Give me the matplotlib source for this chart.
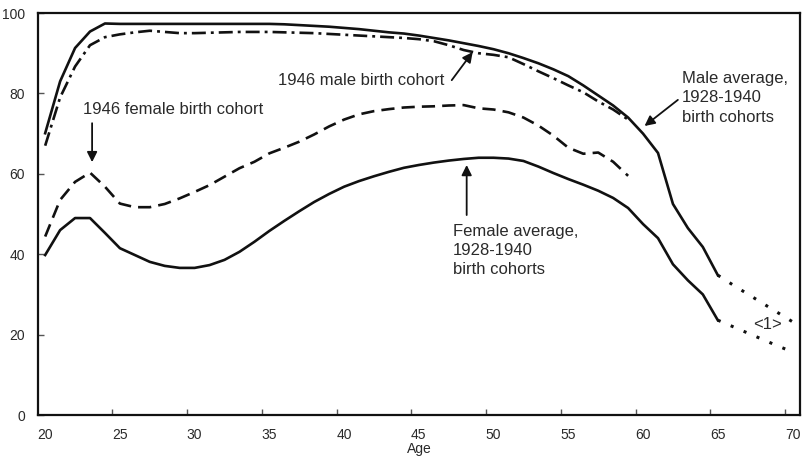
import matplotlib
matplotlib.use("Agg")
import matplotlib.pyplot as plt

plt.rcParams['font.family'] = ['Liberation Sans', 'DejaVu Sans']

# ages for each series
ages_male_avg = list(range(20, 66))
ages_cohort = list(range(20, 60))
ages_proj = list(range(65, 71))

male_avg = [70.1, 83, 91.3, 95.4, 97.4, 97.3, 97.3, 97.3, 97.3, 97.3,
            97.3, 97.3, 97.3, 97.3, 97.3, 97.3, 97.2, 97.0, 96.8, 96.6,
            96.3, 96.0, 95.6, 95.2, 94.9, 94.4, 93.8, 93.2, 92.5, 91.8,
            91.0, 90.0, 88.8, 87.5, 86.0, 84.3, 82.0, 79.5, 77.0, 74.0,
            70.0, 65.2, 52.5, 46.5, 41.8, 34.8]
male_1946 = [67, 79, 86.7, 92, 94, 94.7, 95.2, 95.6, 95.3, 95.0,
             95.0, 95.1, 95.2, 95.3, 95.3, 95.3, 95.2, 95.1, 95.0, 94.8,
             94.6, 94.4, 94.2, 94.0, 93.8, 93.5, 93.0, 92.0, 90.8, 90.0,
             89.6, 89.0, 87.3, 85.5, 83.8, 82.0, 80.3, 78.0, 76.0, 73.5]
female_avg = [39.8, 46, 49, 49, 45.3, 41.5, 39.8, 38.1, 37.1, 36.6,
              36.6, 37.3, 38.6, 40.6, 43.1, 45.8, 48.3, 50.7, 53.0, 55.0,
              56.8, 58.2, 59.4, 60.5, 61.5, 62.2, 62.8, 63.3, 63.7, 64.0,
              64.0, 63.8, 63.2, 61.8, 60.2, 58.7, 57.3, 55.8, 54.0, 51.5,
              47.5, 44.0, 37.5, 33.5, 30.0, 23.6]
female_1946 = [44.4, 53.5, 58, 60.3, 56.8, 52.6, 51.7, 51.7, 52.5, 53.9,
               55.5, 57.2, 59.3, 61.4, 63.0, 65.1, 66.5, 68.0, 69.8, 71.8,
               73.5, 74.8, 75.6, 76.1, 76.5, 76.7, 76.8, 77.0, 77.1, 76.3,
               76.0, 75.3, 74.0, 72.0, 69.5, 66.5, 65.0, 65.3, 63.0, 59.5]
male_proj = [34.8, 32.4, 30.1, 27.8, 25.5, 23.2]
female_proj = [23.6, 22.0, 20.4, 18.8, 17.2, 15.7]

x_labels = list(range(20, 71, 5))
y_ticks = list(range(0, 101, 20))

ink = '#111111'
txt = '#2a2a2a'

fig = plt.figure(figsize=(8.02, 4.66), dpi=100)
ax = fig.add_axes([0.047, 0.1094, 0.9505, 0.8626])

ax.plot(ages_male_avg, male_avg, color=ink, lw=1.9, solid_joinstyle='round')
ax.plot(ages_male_avg, female_avg, color=ink, lw=1.9, solid_joinstyle='round')
ax.plot(ages_cohort, male_1946, color=ink, lw=1.9, dashes=(5.3, 1.9, 1.1, 1.9))
ax.plot(ages_cohort, female_1946, color=ink, lw=1.9, dashes=(5, 2.7))
ax.plot(ages_proj, male_proj, color=ink, lw=2.2, dashes=(1, 3.6))
ax.plot(ages_proj, female_proj, color=ink, lw=2.2, dashes=(1, 3.6))

ax.set_xlim(19.5, 70.5)
ax.set_ylim(0, 100)

# labels at category centres, tick marks between categories
ax.set_xticks(x_labels)
ax.set_xticklabels([str(v) for v in x_labels])
ax.set_xticks([v - 0.5 for v in x_labels[1:]], minor=True)
ax.tick_params(axis='x', which='major', length=0, pad=9, labelsize=10, labelcolor=txt)
ax.tick_params(axis='x', which='minor', direction='in', length=4, width=1, color='#555555')
ax.set_yticks(y_ticks)
ax.tick_params(axis='y', direction='in', length=4, width=1, color='#555555',
               pad=9, labelsize=10, labelcolor=txt)
for s in ax.spines.values():
    s.set_linewidth(1.6)
    s.set_color(ink)

ax.set_xlabel('Age', fontsize=10, color=txt, labelpad=0)

arrow = dict(arrowstyle='-|>,head_length=0.5,head_width=0.25', color=ink, lw=1.3,
             shrinkA=0, shrinkB=0, mutation_scale=12)
fs = 12

ax.text(22.53, 75.9, '1946 female birth cohort', fontsize=fs, color=txt, va='center', ha='left')
ax.annotate('', xy=(23.14, 62.9), xytext=(23.14, 72.6), arrowprops=arrow)

ax.text(35.58, 83.3, '1946 male birth cohort', fontsize=fs, color=txt, va='center', ha='left')
ax.annotate('', xy=(48.6, 90.3), xytext=(47.2, 83.3), arrowprops=arrow)

ax.text(62.6, 78.9, 'Male average,\n1928-1940\nbirth cohorts', fontsize=fs, color=txt,
        va='center', ha='left', linespacing=1.35)
ax.annotate('', xy=(60.1, 71.9), xytext=(62.33, 78.4), arrowprops=arrow)

ax.text(47.3, 41.0, 'Female average,\n1928-1940\nbirth cohorts', fontsize=fs, color=txt,
        va='center', ha='left', linespacing=1.35)
ax.annotate('', xy=(48.2, 62.2), xytext=(48.2, 49.75), arrowprops=arrow)

ax.text(68.3, 22.4, '<1>', fontsize=12, color=txt, va='center', ha='center')

fig.savefig('out.png', dpi=100)
